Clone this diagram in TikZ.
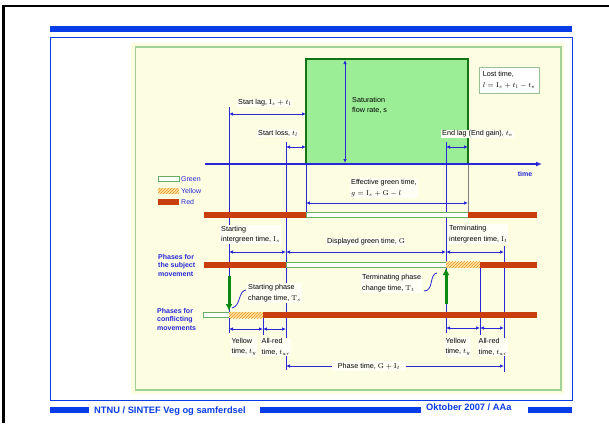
\documentclass[tikz,border=0pt]{standalone}
\usepackage{amsmath}
\usepackage[no-math]{fontspec}
\setmainfont{Liberation Sans}
\usepackage{tikz}
\usetikzlibrary{arrows.meta,patterns}

\definecolor{slideblue}{RGB}{8,60,230}
\definecolor{dimblue}{RGB}{40,40,215}
\definecolor{panelbg}{RGB}{253,253,226}
\definecolor{panelgreen}{RGB}{160,210,150}
\definecolor{satgreen}{RGB}{155,238,150}
\definecolor{darkgreen}{RGB}{20,115,20}
\definecolor{arrowgreen}{RGB}{10,140,20}
\definecolor{barred}{RGB}{200,62,12}
\definecolor{bargreen}{RGB}{100,175,100}
\definecolor{baryellow}{RGB}{255,228,160}
\definecolor{hatchorange}{RGB}{238,150,40}
\definecolor{labelbg}{RGB}{255,255,246}

\begin{document}
\begin{tikzpicture}[x=1pt,y=-1pt,
    dim/.style={dimblue, line width=0.8pt},
    dimarrow/.style={dim, {Latex[length=4pt,width=3.5pt]}-{Latex[length=4pt,width=3.5pt]}},
    lbl/.style={font=\fontsize{7.2}{10.5}\selectfont, inner sep=1pt, align=left, fill=labelbg},
    phaselbl/.style={font=\fontsize{7}{8.5}\selectfont\bfseries, text=dimblue, align=left, inner sep=0pt},
    legendlbl/.style={font=\fontsize{7}{8}\selectfont, text=dimblue, inner sep=0pt},
    footlbl/.style={font=\fontsize{9.3}{10}\selectfont\bfseries, text=slideblue, inner sep=0pt},
    redbar/.style={fill=barred},
    greenbar/.style={draw=bargreen, fill=white, line width=0.8pt},
    yellowbar/.style={fill=baryellow, postaction={pattern=north east lines, pattern color=hatchorange}},
    phasearrow/.style={arrowgreen, line width=3pt, -{Latex[length=7pt,width=7pt]}}]

    % Page size and slide frame
    \useasboundingbox (0,0) rectangle (609,423);
    \fill[white] (0,0) rectangle (609,423);
    \draw[black, line width=2.5pt] (3.5,423) -- (3.5,5.8) -- (609,5.8);
    \fill[slideblue] (50,25.6) rectangle (572,32.2);
    \draw[slideblue, line width=1pt] (50.5,37.7) rectangle (572.5,400);

    % Diagram panel
    \fill[panelbg] (131,43) rectangle (563.5,394);
    \draw[panelgreen, line width=1.5pt] (135.5,47) rectangle (561,390);

    % Saturation flow block
    \filldraw[fill=satgreen, draw=darkgreen, line width=1.5pt] (306,59) -- (306,164) -- (468,164) -- (468,59) -- cycle;

    % Vertical reference lines
    \draw[dim] (229,107) -- (229,333);
    \draw[dim] (286,142) -- (286,370);
    \draw[dim] (306,164) -- (306,212);
    \draw[dim] (446,142) -- (446,333);
    \draw[gray, line width=0.8pt] (468,164) -- (468,212);
    \draw[dim] (504,246) -- (504,372);
    \draw[dim] (480,267) -- (480,335);
    \draw[dim] (263,317) -- (263,335);

    % Time axis
    \draw[dimblue, line width=1.3pt, -{Latex[length=6pt,width=5pt]}] (205,164) -- (542,164);
    \node[font=\fontsize{7}{8}\selectfont\bfseries, text=dimblue] (time) at (525,174) {time};

    % Dimensions above the axis
    \draw[dimarrow] (345,60) -- (345,163);
    \draw[dimarrow] (229,114) -- (306,114);
    \draw[dimarrow] (286,147) -- (306,147);
    \draw[dimarrow] (446,147) -- (468,147);

    \node[lbl, anchor=west] (startlag) at (237,103) {Start lag, $\mathrm{I}_s + t_l$};
    \node[lbl, anchor=west] (startloss) at (257,133) {Start loss, $t_l$};
    \node[lbl, anchor=west, fill=satgreen] (satflow) at (351,105.5) {Saturation\\flow rate, s};
    \node[lbl, anchor=west] (endlag) at (441,134) {End lag (End gain), $t_e$};
    \node[lbl, draw=panelgreen!80!gray, fill=white, line width=0.8pt, inner sep=2pt, minimum width=60pt, minimum height=26pt] (losttime) at (509,80) {Lost time,\\$l = \mathrm{I}_s + t_l - t_e$};

    % Legend
    \draw[greenbar] (158,176) rectangle (179,181);
    \fill[yellowbar] (158,188) rectangle (179,193.5);
    \fill[redbar] (158,199) rectangle (179,205);
    \node[legendlbl, anchor=west] (lgreen) at (181,179) {Green};
    \node[legendlbl, anchor=west] (lyellow) at (181,191) {Yellow};
    \node[legendlbl, anchor=west] (lred) at (181,202) {Red};

    % Effective green row
    \draw[dimarrow] (306,203) -- (468,203);
    \node[lbl, anchor=west] (effgreen) at (350,188) {Effective green time,\\$g = \mathrm{I}_s + \mathrm{G} - l$};
    \fill[redbar] (204,212) rectangle (306,218);
    \draw[greenbar] (306,212.4) rectangle (468,217.6);
    \fill[redbar] (468,212) rectangle (537,218);

    % Subject movement row
    \draw[dimarrow] (229,252) -- (286,252);
    \draw[dimarrow] (286,252) -- (446,252);
    \draw[dimarrow] (446,252) -- (504,252);
    \node[lbl, anchor=west] (startig) at (220,234.5) {Starting\\intergreen time, $\mathrm{I}_s$};
    \node[lbl, anchor=west] (dispgreen) at (326,242) {Displayed green time, $\mathrm{G}$};
    \node[lbl, anchor=west] (termig) at (448,234) {Terminating\\intergreen time, $\mathrm{I}_t$};
    \node[phaselbl, anchor=west] (subject) at (158,265) {Phases for\\the subject\\movement};
    \fill[redbar] (204,261.5) rectangle (286,267.5);
    \draw[greenbar] (286,262) rectangle (446,267);
    \fill[yellowbar] (446,261.5) rectangle (480,267.5);
    \fill[redbar] (480,261.5) rectangle (537,267.5);

    % Phase change arrows
    \draw[phasearrow] (229,276) -- (229,311);
    \draw[phasearrow] (446,304) -- (446,268);
    \node[lbl, anchor=west] (startchange) at (247,293) {Starting phase\\change time, $\mathrm{T}_s$};
    \node[lbl, anchor=west] (termchange) at (361,283) {Terminating phase\\change time, $\mathrm{T}_t$};
    \draw[dim] (246,290) .. controls (238,291) and (241,306) .. (232,308);
    \draw[dim] (424,291) .. controls (434,291) and (429,274) .. (437,273);

    % Conflicting movements row
    \node[phaselbl, anchor=west] (conflict) at (157,319) {Phases for\\conflicting\\movements};
    \draw[greenbar] (203,312.4) rectangle (229,317.4);
    \fill[yellowbar] (229,312) rectangle (263,318);
    \fill[redbar] (263,312) rectangle (537,318);

    % Yellow and all-red times
    \draw[dimarrow] (229,329) -- (263,329);
    \draw[dimarrow] (263,329) -- (286,329);
    \draw[dimarrow] (446,328) -- (480,328);
    \draw[dimarrow] (480,328) -- (504,328);
    \node[lbl] (yellowa) at (244,347) {Yellow\\time, $t_y$};
    \node[lbl] (allreda) at (276,347) {All-red\\time, $t_{ar}$};
    \node[lbl] (yellowb) at (458,347) {Yellow\\time, $t_y$};
    \node[lbl] (allredb) at (493,347) {All-red\\time, $t_{ar}$};

    % Phase time
    \draw[dimarrow] (286,366) -- (504,366);
    \node[lbl, inner xsep=6pt, inner ysep=2pt] (phasetime) at (369,366) {Phase time, $\mathrm{G} + \mathrm{I}_t$};

    % Footer
    \fill[slideblue] (50,407) rectangle (89,413);
    \fill[slideblue] (260,407) rectangle (421,413);
    \fill[slideblue] (527.5,407) rectangle (572,413);
    \node[footlbl, anchor=west] (footleft) at (94,411) {NTNU / SINTEF Veg og samferdsel};
    \node[footlbl, anchor=west] (footright) at (426,407.5) {Oktober 2007 / AAa};
\end{tikzpicture}
\end{document}
